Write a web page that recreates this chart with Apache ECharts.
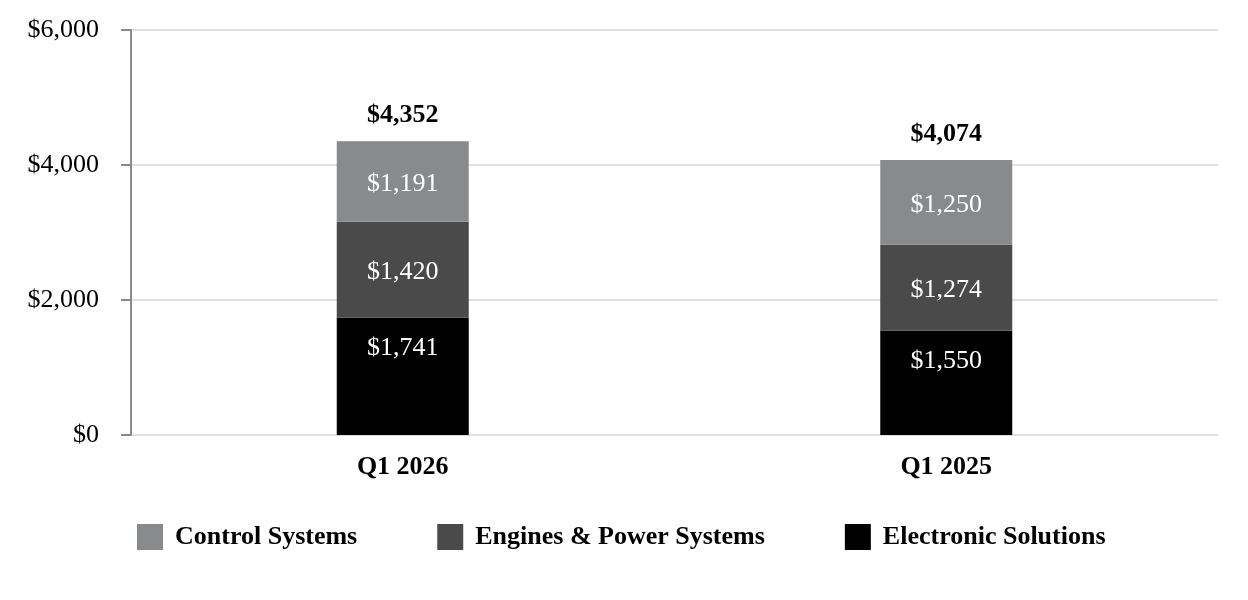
<!DOCTYPE html>
<html>
<head>
<meta charset="utf-8">
<style>
  html, body { margin: 0; padding: 0; background: #fff; }
  #chart { width: 1248px; height: 600px; }
</style>
<script src="https://cdn.jsdelivr.net/npm/echarts@6/dist/echarts.min.js"></script>
</head>
<body>
<div id="chart"></div>
<script>
const categories = ['Q1 2026', 'Q1 2025'];
const electronicSolutions = [1741, 1550];
const enginesPower = [1420, 1274];
const controlSystems = [1191, 1250];
const yTicks = [0, 2000, 4000, 6000];

const totals = categories.map((_, i) => electronicSolutions[i] + enginesPower[i] + controlSystems[i]);

const FONT = '"Liberation Serif", "Times New Roman", serif';
const money = v => '$' + v.toLocaleString('en-US');

const chart = echarts.init(document.getElementById('chart'));

const segLabel = {
    show: true,
    color: '#ffffff',
    fontFamily: FONT,
    fontSize: 26,
    offset: [0, 3],
    formatter: p => money(p.value)
};

chart.setOption({
    animation: false,
    grid: { left: 131, right: 30, top: 30, bottom: 165 },
    xAxis: {
        type: 'category',
        data: categories,
        axisLine: { show: false },
        axisTick: { show: false },
        axisLabel: { margin: 19, color: '#000', fontFamily: FONT, fontSize: 26, fontWeight: 'bold' }
    },
    yAxis: {
        type: 'value',
        min: yTicks[0],
        max: yTicks[yTicks.length - 1],
        interval: 2000,
        axisLine: { show: true, lineStyle: { color: '#8a8a8a', width: 2 } },
        axisTick: { show: true, length: 10, lineStyle: { color: '#8a8a8a', width: 2 } },
        splitLine: { lineStyle: { color: '#e0e0e0', width: 2 } },
        axisLabel: { margin: 32, color: '#000', fontFamily: FONT, fontSize: 26, formatter: v => money(v) }
    },
    legend: {
        data: ['Control Systems', 'Engines & Power Systems', 'Electronic Solutions'],
        left: 137,
        top: 524,
        padding: 0,
        itemWidth: 26,
        itemHeight: 26,
        itemGap: 80,
        icon: 'rect',
        textStyle: { color: '#000', fontFamily: FONT, fontSize: 26, fontWeight: 'bold', padding: [0, 0, 0, 7] }
    },
    series: [
        {
            name: 'Electronic Solutions',
            type: 'bar',
            stack: 'total',
            barWidth: 132,
            data: electronicSolutions,
            itemStyle: { color: '#000000' },
            label: Object.assign({}, segLabel, { position: 'insideTop', distance: 15 })
        },
        {
            name: 'Engines & Power Systems',
            type: 'bar',
            stack: 'total',
            barWidth: 132,
            data: enginesPower,
            itemStyle: { color: '#4a4a4a' },
            label: Object.assign({}, segLabel, { position: 'inside' })
        },
        {
            name: 'Control Systems',
            type: 'bar',
            stack: 'total',
            barWidth: 132,
            data: controlSystems,
            itemStyle: { color: '#888a8c' },
            label: Object.assign({}, segLabel, { position: 'inside' })
        },
        {
            name: 'Total',
            type: 'bar',
            barWidth: 132,
            barGap: '-100%',
            data: totals,
            z: 1,
            itemStyle: { color: 'rgba(0,0,0,0)' },
            label: {
                show: true,
                position: 'top',
                distance: 13,
                color: '#000',
                fontFamily: FONT,
                fontSize: 26,
                fontWeight: 'bold',
                formatter: p => money(p.value)
            },
            tooltip: { show: false }
        }
    ]
});

window.addEventListener('resize', () => chart.resize());
</script>
</body>
</html>
